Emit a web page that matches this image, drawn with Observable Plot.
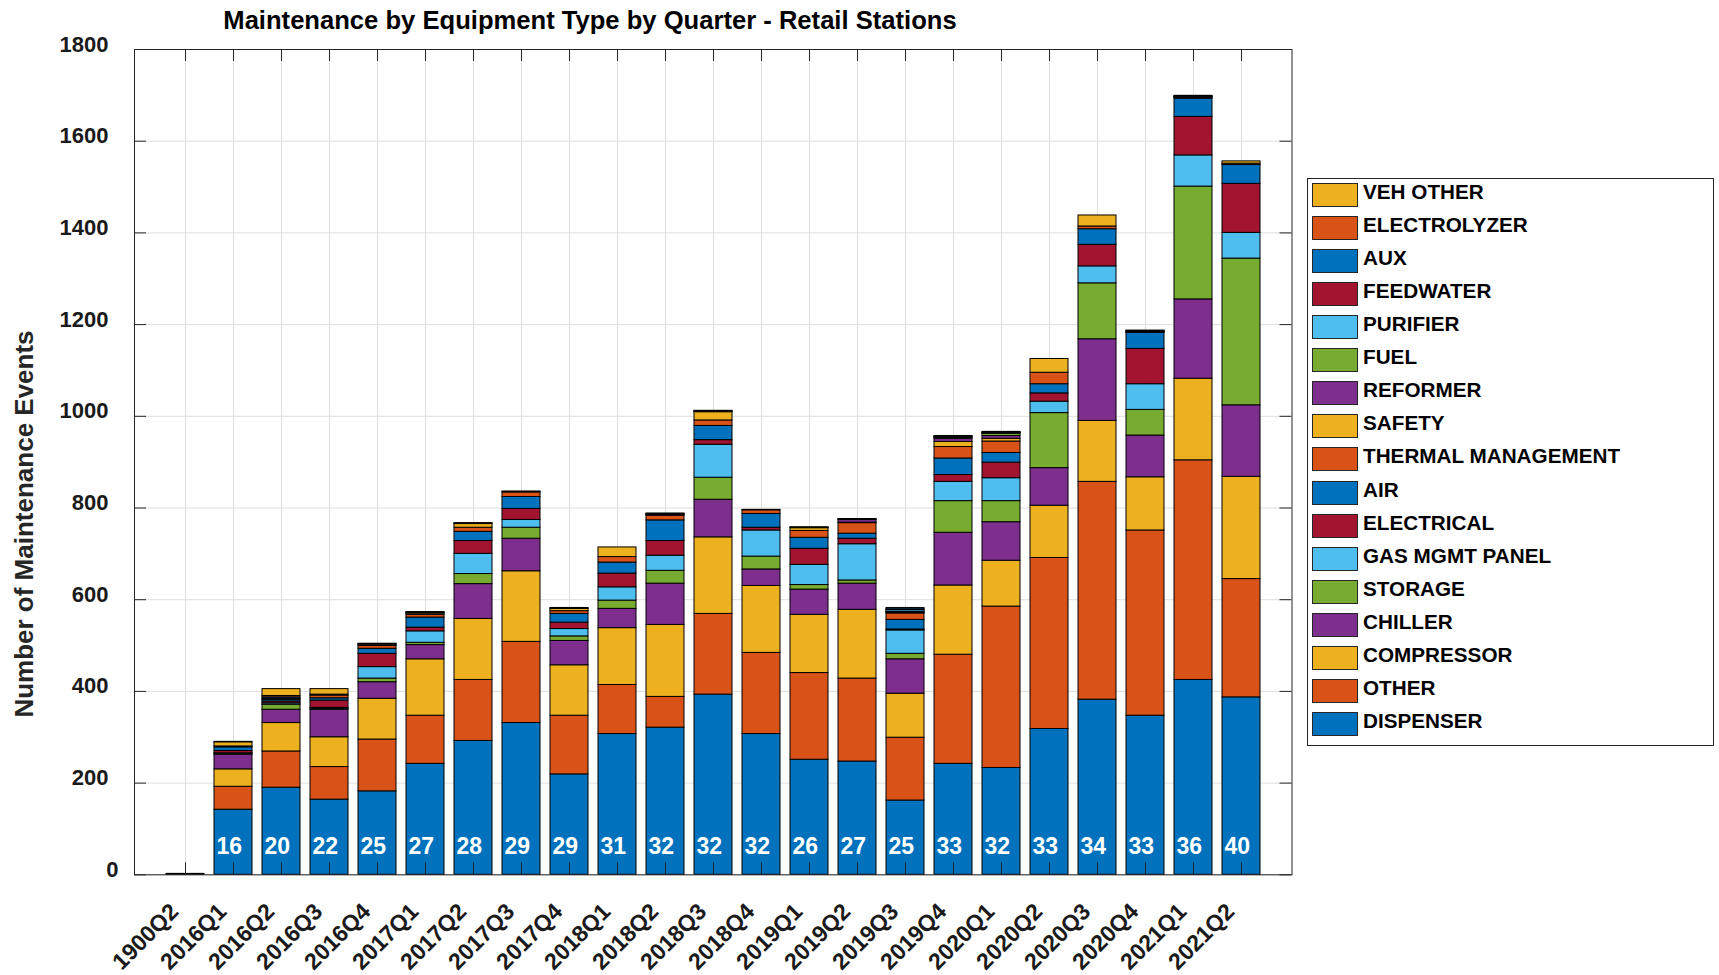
<!DOCTYPE html>
<html>
<head>
<meta charset="utf-8">
<script src="https://cdn.jsdelivr.net/npm/d3@7"></script>
<script src="https://cdn.jsdelivr.net/npm/@observablehq/plot@0.6"></script>
<style>
  html, body { margin: 0; padding: 0; background: #fff; }
  #wrap { position: relative; width: 1719px; height: 975px; overflow: hidden; font-family: "Liberation Sans", Arial, sans-serif; font-weight: bold; color: #000; }
  #chart { position: absolute; left: 0; top: 0; }
  #title { position: absolute; left: 90px; width: 1000px; top: 5px; text-align: center; font-size: 25.6px; line-height: 30px; white-space: nowrap; }
  #ylabel { position: absolute; left: -226px; width: 500px; top: 509px; text-align: center; font-size: 26px; line-height: 30px; transform: rotate(-90deg); white-space: nowrap; color: #262626; }
  #legend { position: absolute; left: 1307px; top: 178px; width: 407px; height: 568px; box-sizing: border-box; border: 1px solid #262626; background: #fff; }
  .item { position: absolute; left: 4px; height: 26px; width: 395px; }
  .sw { position: absolute; left: 0; top: 0; width: 46px; height: 24px; box-sizing: border-box; border: 1px solid #262626; }
  .lb { position: absolute; left: 51px; top: -2px; font-size: 20.7px; line-height: 21px; white-space: nowrap; color: #000; }
</style>
</head>
<body>
<div id="wrap">
  <div id="chart"></div>
  <div id="title">Maintenance by Equipment Type by Quarter - Retail Stations</div>
  <div id="ylabel">Number of Maintenance Events</div>
  <div id="legend"></div>
</div>
<script>
const quarters = ["1900Q2","2016Q1","2016Q2","2016Q3","2016Q4","2017Q1","2017Q2","2017Q3","2017Q4","2018Q1","2018Q2","2018Q3","2018Q4","2019Q1","2019Q2","2019Q3","2019Q4","2020Q1","2020Q2","2020Q3","2020Q4","2021Q1","2021Q2"];
const stationCounts = [null,16,20,22,25,27,28,29,29,31,32,32,32,26,27,25,33,32,33,34,33,36,40];
const yTicks = [0,200,400,600,800,1000,1200,1400,1600,1800];

const DISPENSER    = [2,142,190,164,182,242,292,331,219,307,321,393,307,251,247,162,242,233,318,382,347,425,387];
const OTHER        = [0,50,79,71,113,105,133,177,128,107,67,176,177,189,181,137,238,352,373,475,404,479,258];
const COMPRESSOR   = [0,38,62,65,89,123,133,154,110,124,157,167,146,127,150,96,151,100,114,133,116,178,223];
const CHILLER      = [0,32,29,60,36,31,76,71,53,42,90,82,36,55,57,75,115,84,82,178,91,173,156];
const STORAGE      = [0,2,11,2,8,5,22,24,10,18,28,48,28,10,7,12,69,46,120,122,56,246,320];
const GAS_MGMT     = [0,1,3,2,25,25,44,17,16,29,33,72,57,44,79,51,42,50,25,37,56,68,56];
const ELECTRICAL   = [0,5,4,16,29,8,28,24,14,30,32,10,6,35,12,2,15,34,18,47,77,84,107];
const AIR          = [0,8,4,5,11,22,20,26,19,24,45,31,30,24,11,21,36,21,20,34,35,40,41];
const THERMAL      = [0,2,1,6,6,6,9,10,6,12,10,12,8,15,23,14,25,25,25,6,1,2,3];
const SAFETY       = [0,9,0,2,3,3,8,1,5,21,2,18,1,6,1,1,11,6,30,24,1,1,5];
const REFORMER     = [0,1,0,0,1,1,1,1,1,0,1,1,0,1,6,2,7,6,0,0,1,1,0];
const FUEL         = [0,0,0,0,1,1,1,0,1,0,0,1,0,1,1,1,2,5,0,0,1,1,0];
const PURIFIER     = [0,0,1,0,0,0,0,0,0,0,0,0,0,0,1,4,2,1,0,0,1,1,0];
const FEEDWATER    = [0,0,0,0,0,0,0,0,0,0,1,1,0,0,0,1,1,1,0,0,0,0,0];
const AUX          = [0,0,3,0,0,1,0,0,0,0,1,0,0,0,0,3,1,1,0,0,0,0,0];
const ELECTROLYZER = [0,0,3,0,0,0,0,0,0,0,0,0,0,0,0,0,0,1,0,0,0,0,0];
const VEH_OTHER    = [0,0,15,12,0,0,0,0,0,0,0,0,0,0,0,0,0,0,0,0,0,0,0];

const seriesNames = ["DISPENSER","OTHER","COMPRESSOR","CHILLER","STORAGE","GAS MGMT PANEL","ELECTRICAL","AIR","THERMAL MANAGEMENT","SAFETY","REFORMER","FUEL","PURIFIER","FEEDWATER","AUX","ELECTROLYZER","VEH OTHER"];
const seriesValues = [DISPENSER,OTHER,COMPRESSOR,CHILLER,STORAGE,GAS_MGMT,ELECTRICAL,AIR,THERMAL,SAFETY,REFORMER,FUEL,PURIFIER,FEEDWATER,AUX,ELECTROLYZER,VEH_OTHER];
const palette = ["#0072BD","#D95319","#EDB120","#7E2F8E","#77AC30","#4DBEEE","#A2142F"];
const seriesColors = seriesNames.map((_, k) => palette[k % palette.length]);

const rows = [];
seriesNames.forEach((s, k) => {
  quarters.forEach((q, i) => {
    const v = seriesValues[k][i];
    if (v > 0) rows.push({quarter: q, series: s, value: v});
  });
});
const countRows = quarters.map((q, i) => ({quarter: q, count: stationCounts[i]})).filter(d => d.count != null);

const W = 1719, H = 975;
const mL = 134, mR = 427.5, mT = 49, mB = 100.7;
const plotW = W - mL - mR, plotH = H - mT - mB;
const axisColor = "#262626";
const fmt = d => String(d);

const chart = Plot.plot({
  width: W, height: H,
  marginLeft: mL, marginRight: mR, marginTop: mT, marginBottom: mB,
  style: {fontFamily: "'Liberation Sans', Arial, sans-serif", fontWeight: "bold", background: "transparent", color: "#000"},
  x: {type: "band", domain: quarters, paddingInner: 0.2, paddingOuter: 0.6, label: null},
  y: {domain: [0, 1800], label: null},
  color: {domain: seriesNames, range: seriesColors},
  marks: [
    Plot.gridX(quarters, {stroke: "#dedede", strokeOpacity: 1}),
    Plot.gridY(yTicks, {stroke: "#dedede", strokeOpacity: 1}),
    Plot.barY(rows, {x: "quarter", y: "value", fill: "series", stroke: "#000", strokeWidth: 1}),
    Plot.text(countRows, {x: "quarter", y: () => 0, text: "count", fill: "#fff", fontSize: 23, fontWeight: "bold", textAnchor: "start", dx: -17, dy: -28}),
    Plot.tickY(yTicks, {y: d => d, insetRight: plotW - 12, stroke: axisColor}),
    Plot.tickY(yTicks, {y: d => d, insetLeft: plotW - 12, stroke: axisColor}),
    Plot.tickX(quarters, {x: d => d, insetTop: plotH - 12, stroke: axisColor}),
    Plot.tickX(quarters, {x: d => d, insetBottom: plotH - 12, stroke: axisColor}),
    Plot.axisY(yTicks.filter(d => d > 0), {tickSize: 0, tickPadding: 26, dy: -5, fontSize: 22, fill: "#1a1a1a", tickFormat: fmt}),
    Plot.axisY([0], {tickSize: 0, tickPadding: 16, dy: -5, fontSize: 22, fill: "#1a1a1a", tickFormat: fmt}),
    Plot.axisX(quarters, {tickSize: 0, tickPadding: 14, tickRotate: -45, dx: -11, dy: 19, fontSize: 23, fill: "#1a1a1a"}),
    Plot.frame({stroke: axisColor})
  ]
});
document.getElementById("chart").appendChild(chart);

// Legend built from the chart's own color scale (top entry = last series)
const colorScale = chart.scale("color");
const legend = document.getElementById("legend");
const entries = colorScale.domain.map((name, k) => ({name, color: colorScale.range[k]})).reverse();
entries.forEach((e, i) => {
  const item = document.createElement("div");
  item.className = "item";
  item.style.top = (4 + i * 33.06) + "px";
  const sw = document.createElement("div");
  sw.className = "sw";
  sw.style.background = e.color;
  const lb = document.createElement("div");
  lb.className = "lb";
  lb.textContent = e.name;
  item.appendChild(sw);
  item.appendChild(lb);
  legend.appendChild(item);
});
</script>
</body>
</html>
